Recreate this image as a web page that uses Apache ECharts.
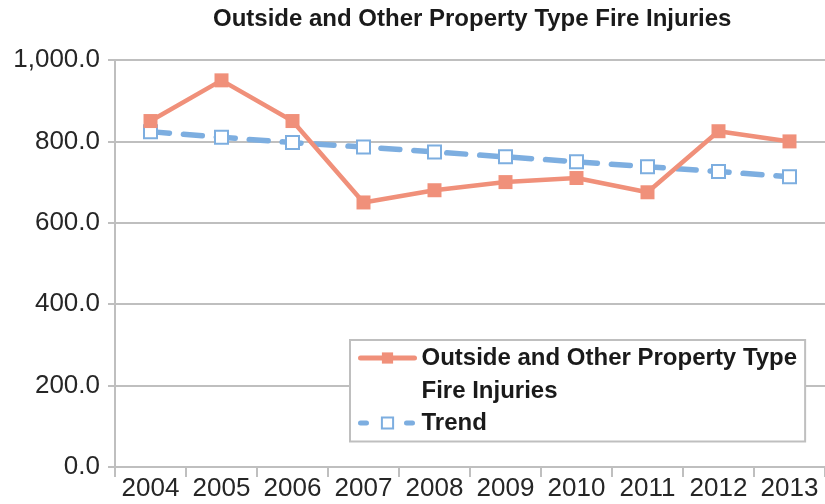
<!DOCTYPE html>
<html>
<head>
<meta charset="utf-8">
<script src="https://cdn.jsdelivr.net/npm/echarts@6/dist/echarts.min.js"></script>
<style>
  html, body { margin: 0; padding: 0; background: #fff; }
  #chart { width: 825px; height: 504px; }
</style>
</head>
<body>
<div id="chart"></div>
<script>
// Yearly injury counts and the fitted trend line
const years = ['2004', '2005', '2006', '2007', '2008', '2009', '2010', '2011', '2012', '2013'];
const injuries = [850, 950, 850, 650, 680, 700, 710, 675, 825, 800];
const trend = [824, 810, 797, 786, 774, 762, 750, 738, 726, 713];
const yTicks = { min: 0, max: 1000, step: 200 };

const titleText = 'Outside and Other Property Type Fire Injuries';
const seriesName = 'Outside and Other Property Type\nFire Injuries';
const trendName = 'Trend';

const orange = '#F0907A';
const blue = '#7DAEE0';
const gridGray = '#BFBFBF';
const textColor = '#262626';
const labelFont = 'Liberation Sans, Arial, sans-serif';
const legendLine = 33;

const chart = echarts.init(document.getElementById('chart'));
chart.setOption({
  animation: false,
  backgroundColor: '#ffffff',
  title: {
    text: titleText,
    left: 213,
    top: 7,
    padding: 0,
    textStyle: { fontFamily: labelFont, fontWeight: 'bold', fontSize: 24, color: '#1a1a1a' }
  },
  grid: { left: 115, right: -6, top: 60, bottom: 37, containLabel: false },
  legend: {
    orient: 'vertical',
    left: 350,
    top: 340,
    // the first entry gets an empty leading line so its icon sits beside its first text line;
    // the negative top padding keeps that empty line outside the framed box
    padding: [-(legendLine * 1.5 - 18), 8, 2, 8],
    itemGap: -1,
    itemWidth: 54,
    itemHeight: 14,
    borderColor: gridGray,
    borderWidth: 2,
    backgroundColor: '#ffffff',
    formatter: name => (name === seriesName ? '\n' + name : name),
    textStyle: {
      fontFamily: labelFont, fontWeight: 'bold', fontSize: 24, color: '#1a1a1a',
      lineHeight: legendLine, padding: [0, 0, 0, 2]
    },
    data: [
      { name: seriesName, lineStyle: { width: 5, cap: 'round' } },
      // short dashes on either side of the hollow square in the trend key
      { name: trendName, lineStyle: { type: [6, 40], cap: 'round', width: 5 } }
    ]
  },
  xAxis: {
    type: 'category',
    data: years,
    boundaryGap: true,
    axisLine: { show: true, lineStyle: { color: gridGray, width: 2 } },
    axisTick: { show: true, interval: 0, length: 10, lineStyle: { color: gridGray, width: 2 } },
    axisLabel: { interval: 0, margin: 9, fontFamily: labelFont, fontSize: 26, color: textColor },
    splitLine: { show: false }
  },
  yAxis: {
    type: 'value',
    min: yTicks.min,
    max: yTicks.max,
    interval: yTicks.step,
    axisLine: { show: true, lineStyle: { color: gridGray, width: 2 } },
    axisTick: { show: true, length: 7, lineStyle: { color: gridGray, width: 2 } },
    axisLabel: {
      margin: 15,
      fontFamily: labelFont,
      fontSize: 26,
      color: textColor,
      formatter: v => v.toLocaleString('en-US', { minimumFractionDigits: 1, maximumFractionDigits: 1 })
    },
    splitLine: { show: true, lineStyle: { color: gridGray, width: 2 } }
  },
  series: [
    {
      name: seriesName,
      type: 'line',
      data: injuries,
      symbol: 'rect',
      symbolSize: 14,
      itemStyle: { color: orange },
      lineStyle: { color: orange, width: 4.5 },
      z: 3
    },
    {
      name: trendName,
      type: 'line',
      data: trend,
      symbol: 'rect',
      symbolSize: 13,
      itemStyle: { color: '#ffffff', borderColor: blue, borderWidth: 2 },
      lineStyle: { color: blue, width: 5.5, type: [19, 14], cap: 'round' },
      z: 2
    }
  ]
});
</script>
</body>
</html>
